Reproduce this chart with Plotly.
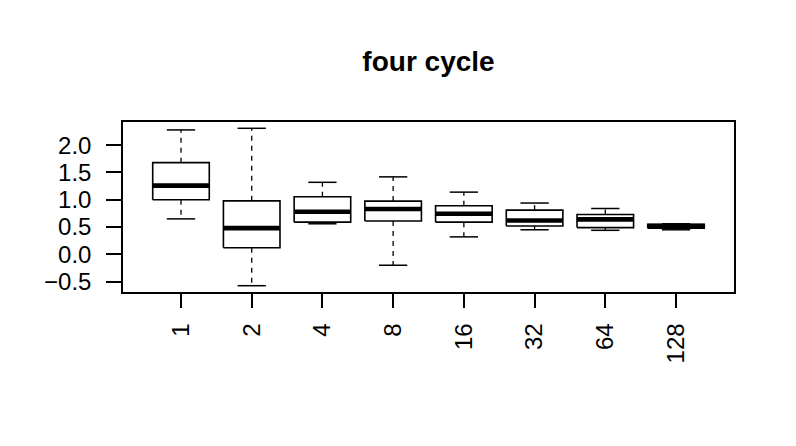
import plotly.graph_objects as go

# ---- data ----
categories = ["1", "2", "4", "8", "16", "32", "64", "128"]
upper_whisker = [2.28, 2.31, 1.32, 1.42, 1.14, 0.94, 0.84, 0.56]
q3_values     = [1.68, 0.98, 1.055, 0.976, 0.89, 0.81, 0.73, 0.55]
medians       = [1.26, 0.48, 0.78, 0.83, 0.745, 0.62, 0.64, 0.52]
q1_values     = [1.00, 0.12, 0.59, 0.61, 0.59, 0.52, 0.49, 0.48]
lower_whisker = [0.65, -0.575, 0.56, -0.20, 0.32, 0.45, 0.44, 0.45]
y_ticks = [-0.5, 0.0, 0.5, 1.0, 1.5, 2.0]
title_text = "four cycle"

BOX_HALF = 0.4     # boxwex 0.8
CAP_HALF = 0.2     # staple width
FONT = "Liberation Sans, Arial, Helvetica, sans-serif"

positions = list(range(1, len(categories) + 1))

box_x, box_y = [], []
med_x, med_y = [], []
wh_x, wh_y = [], []
cap_x, cap_y = [], []
for p, lo, q1, m, q3, hi in zip(positions, lower_whisker, q1_values, medians, q3_values, upper_whisker):
    box_x += [p - BOX_HALF, p + BOX_HALF, p + BOX_HALF, p - BOX_HALF, p - BOX_HALF, None]
    box_y += [q1, q1, q3, q3, q1, None]
    med_x += [p - BOX_HALF, p + BOX_HALF, None]
    med_y += [m, m, None]
    wh_x += [p, p, None, p, p, None]
    wh_y += [q3, hi, None, q1, lo, None]
    cap_x += [p - CAP_HALF, p + CAP_HALF, None, p - CAP_HALF, p + CAP_HALF, None]
    cap_y += [hi, hi, None, lo, lo, None]

fig = go.Figure()
fig.add_trace(go.Scatter(x=wh_x, y=wh_y, mode="lines",
                         line=dict(color="black", width=1.3, dash="5px,5px"),
                         hoverinfo="skip", showlegend=False))
fig.add_trace(go.Scatter(x=cap_x, y=cap_y, mode="lines",
                         line=dict(color="black", width=1.5),
                         hoverinfo="skip", showlegend=False))
fig.add_trace(go.Scatter(x=box_x, y=box_y, mode="lines", fill="none",
                         line=dict(color="black", width=1.6),
                         hoverinfo="skip", showlegend=False))
fig.add_trace(go.Scatter(x=med_x, y=med_y, mode="lines",
                         line=dict(color="black", width=4.6),
                         hoverinfo="skip", showlegend=False))

n = len(categories)
x_lo, x_hi = 0.5, n + 0.5
x_pad = 0.04 * (x_hi - x_lo)
y_lo, y_hi = min(lower_whisker), max(upper_whisker)
y_pad = 0.04 * (y_hi - y_lo)

fig.update_layout(
    width=796, height=446,
    margin=dict(l=123, r=62, t=122, b=154),
    paper_bgcolor="white", plot_bgcolor="white",
    font=dict(family=FONT, size=24, color="black"),
    title=dict(text="<b>" + title_text + "</b>", font=dict(size=28, family=FONT, color="black"),
               x=0.5, xref="paper", xanchor="center",
               y=1 - 61 / 446, yref="container", yanchor="middle"),
    showlegend=False,
)
fig.update_xaxes(
    range=[x_lo - x_pad, x_hi + x_pad],
    tickmode="array", tickvals=positions, ticktext=categories, tickangle=-90,
    ticks="outside", ticklen=14, tickwidth=1.5, tickcolor="black",
    showline=True, linecolor="black", linewidth=1.5, mirror=True,
    showgrid=False, zeroline=False, ticklabelstandoff=6,
    tickfont=dict(size=24, family=FONT, color="black"),
)
fig.update_yaxes(
    range=[y_lo - y_pad, y_hi + y_pad],
    tickmode="array", tickvals=y_ticks, ticktext=[f"{v:.1f}".replace("-", "\u2212") for v in y_ticks],
    ticks="outside", ticklen=15, tickwidth=1.5, tickcolor="black",
    showline=True, linecolor="black", linewidth=1.5, mirror=True,
    showgrid=False, zeroline=False, ticklabelstandoff=10,
    tickfont=dict(size=24, family=FONT, color="black"),
)

fig.write_html("out.html")
